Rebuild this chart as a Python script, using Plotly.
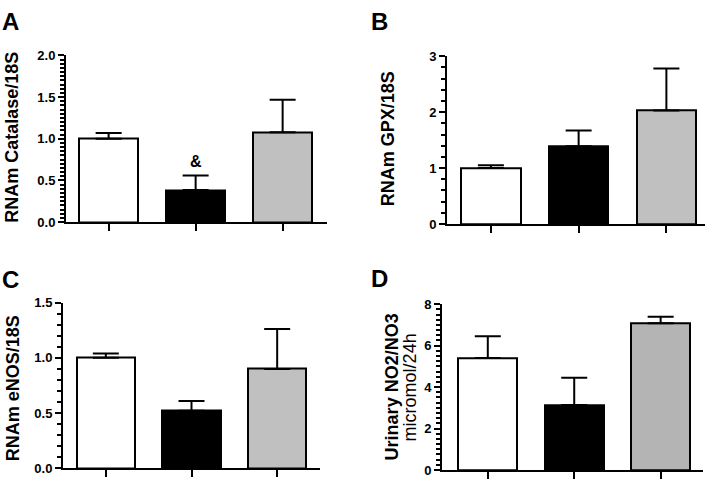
import plotly.graph_objects as go

categories = [0, 1, 2]
bar_colors = ["#ffffff", "#000000", "#c0c0c0"]
bar_colors_d = ["#ffffff", "#000000", "#b4b4b4"]

catalase = [1.00, 0.385, 1.08]
catalase_err = [0.07, 0.175, 0.39]
gpx = [1.00, 1.39, 2.03]
gpx_err = [0.05, 0.28, 0.75]
enos = [1.00, 0.52, 0.90]
enos_err = [0.04, 0.09, 0.36]
urinary = [5.41, 3.13, 7.08]
urinary_err = [1.04, 1.32, 0.31]

W, H = 711, 486
FONT = "Liberation Sans, Arial, Helvetica"

def px_x(a, b):
    return [a / W, b / W]

def px_y(top, bottom):
    return [1 - bottom / H, 1 - top / H]

panels = [
    (catalase, catalase_err, bar_colors, (66, 327), (50, 222), [0, 2], 0.5, 0.05, [-0.49, 2.51], "0.1f"),
    (gpx, gpx_err, bar_colors, (447, 705), (50.7, 224), [0, 3], 1, 0.2, [-0.5, 2.44], "d"),
    (enos, enos_err, bar_colors, (63, 320), (305, 476), [0, 1.5], 0.5, 0.1, [-0.5, 2.5], "0.1f"),
    (urinary, urinary_err, bar_colors_d, (442, 703), (306.7, 477.7), [0, 8], 2, 0.25, [-0.53, 2.49], "d"),
]

fig = go.Figure()
layout = {}
for i, (vals, errs, cols, xd, yd, yr, dt, mdt, xr, fmt) in enumerate(panels):
    n = i + 1
    xa = "x" if n == 1 else f"x{n}"
    ya = "y" if n == 1 else f"y{n}"
    fig.add_trace(go.Bar(
        x=categories, y=vals, xaxis=xa, yaxis=ya,
        width=0.68,
        marker=dict(color=cols, line=dict(color="black", width=2)),
        error_y=dict(type="data", array=errs, arrayminus=[0] * len(errs),
                     symmetric=False, color="black", thickness=2, width=13),
        showlegend=False, hoverinfo="skip",
    ))
    xkey = "xaxis" if n == 1 else f"xaxis{n}"
    ykey = "yaxis" if n == 1 else f"yaxis{n}"
    layout[xkey] = dict(
        domain=px_x(*xd), range=xr, anchor=ya,
        showgrid=False, zeroline=False, showline=True, linecolor="black", linewidth=2,
        tickmode="array", tickvals=categories, showticklabels=False,
        ticks="outside", ticklen=7, tickwidth=2, tickcolor="black",
    )
    layout[ykey] = dict(
        domain=px_y(*yd), range=yr, anchor=xa,
        showgrid=False, zeroline=False, showline=True, linecolor="black", linewidth=2,
        tickmode="linear", dtick=dt, tick0=0, tickformat=fmt,
        ticks="outside", ticklen=6, tickwidth=2, tickcolor="black",
        tickfont=dict(family=FONT, size=13, color="black", weight="bold"),
        minor=dict(dtick=mdt, tick0=0, ticks="outside", ticklen=4.5, tickwidth=1.6,
                   tickcolor="black"),
    )

fig.update_layout(**layout)

ann = []
def title(text, xc, yc, bold=True, size=18):
    ann.append(dict(
        text=f"<b>{text}</b>" if bold else text, xref="paper", yref="paper",
        x=xc / W, y=1 - yc / H, xanchor="center", yanchor="middle",
        textangle=-90, showarrow=False,
        font=dict(family=FONT, size=size, color="black"),
    ))

title("RNAm Catalase/18S", 12.5, 134.5)
title("RNAm GPX/18S", 387.5, 136)
title("RNAm eNOS/18S", 12.5, 394)
title("Urinary NO2/NO3", 392, 392.5)
title("micromol/24h", 410, 392.5, bold=False)

for lab, xc, yc, anc in [("A", 10, 0, "top"), ("B", 380, 0, "top"),
                         ("C", 10, 281.5, "middle"), ("D", 380, 280, "middle")]:
    ann.append(dict(
        text=f"<b>{lab}</b>", xref="paper", yref="paper",
        x=xc / W, y=1 - yc / H, xanchor="center", yanchor=anc,
        showarrow=False, borderpad=0,
        font=dict(family=FONT, size=24, color="black"),
    ))

ann.append(dict(text="<b>&</b>", xref="x", yref="y", x=1, y=0.73,
                xanchor="center", yanchor="middle", showarrow=False,
                font=dict(family=FONT, size=16, color="black")))
ann.append(dict(text="<b>+</b>", xref="x4", yref="y4", x=2, y=8.19,
                xanchor="center", yanchor="middle", showarrow=False,
                font=dict(family=FONT, size=15, color="black")))

fig.update_layout(
    annotations=ann,
    width=W, height=H,
    margin=dict(l=0, r=0, t=0, b=0),
    paper_bgcolor="white", plot_bgcolor="white",
    bargap=0,
)

fig.write_html("out.html", config={"displayModeBar": False},
               post_script="document.body.style.margin='0';document.body.style.overflow='hidden';")
